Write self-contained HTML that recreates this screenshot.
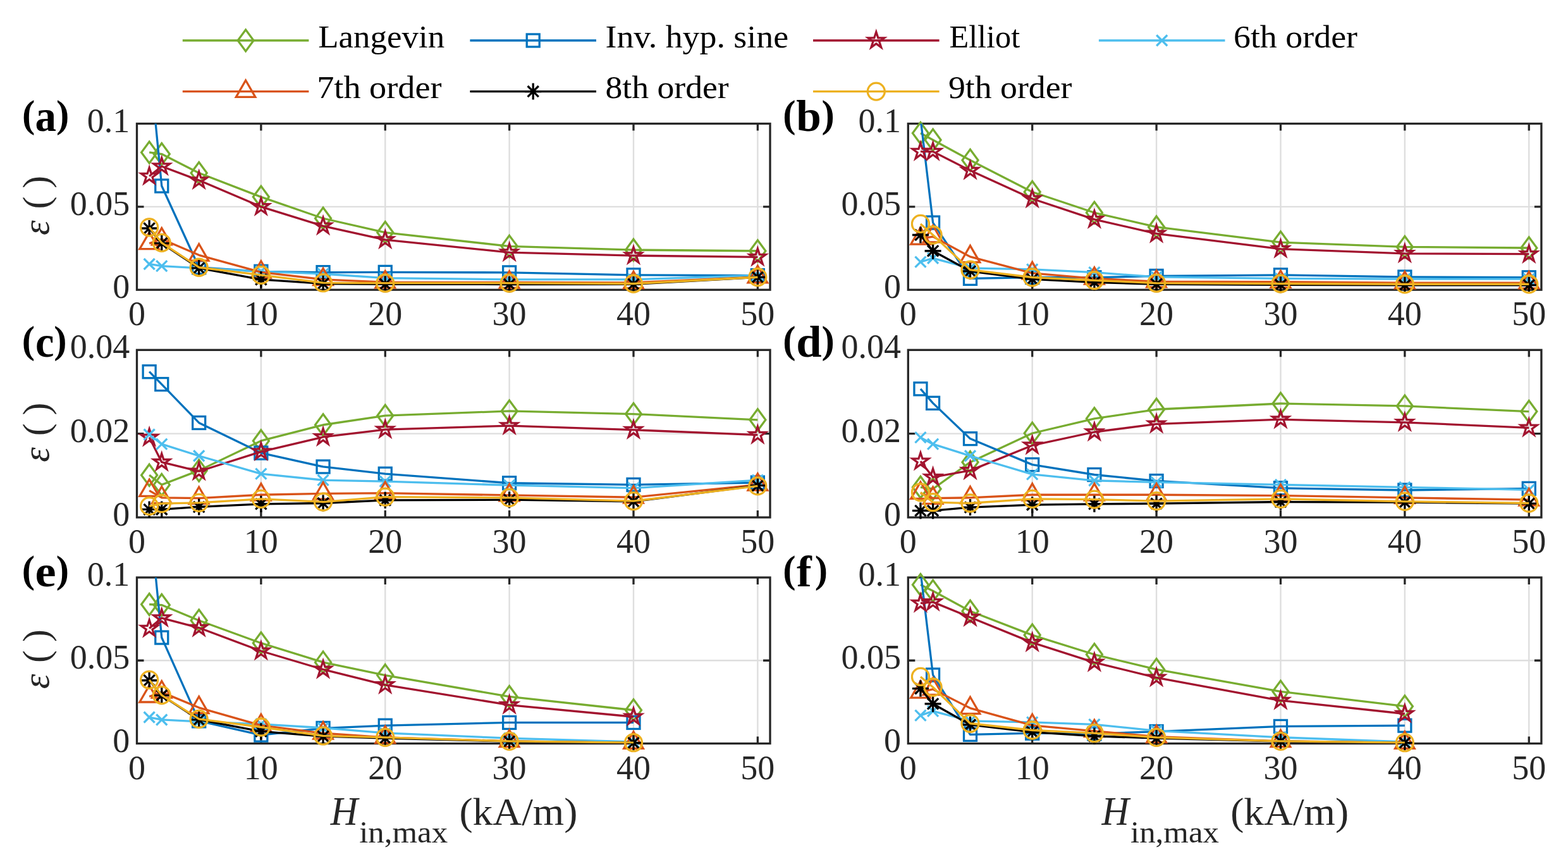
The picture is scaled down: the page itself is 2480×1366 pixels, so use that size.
<!DOCTYPE html><html><head><meta charset="utf-8"><title>Figure</title><style>html,body{margin:0;padding:0;background:#fff;overflow:hidden;}svg{display:block;}</style></head><body>
<svg width="2480" height="1366" viewBox="0 0 2480 1366">
<rect width="2480" height="1366" fill="#fff"/>
<defs><clipPath id="cpa"><rect x="216.5" y="195.5" width="1001.5" height="262.7"/></clipPath><clipPath id="cpb"><rect x="1436.3" y="195.5" width="1001.6" height="262.7"/></clipPath><clipPath id="cpc"><rect x="216.5" y="553.3" width="1001.5" height="264.7"/></clipPath><clipPath id="cpd"><rect x="1436.3" y="553.3" width="1001.6" height="264.7"/></clipPath><clipPath id="cpe"><rect x="216.5" y="913" width="1001.5" height="262.5"/></clipPath><clipPath id="cpf"><rect x="1436.3" y="913" width="1001.6" height="262.5"/></clipPath></defs>
<g stroke="#dedede" stroke-width="2.4" fill="none"><line x1="412.87" y1="195.5" x2="412.87" y2="458.2"/><line x1="609.25" y1="195.5" x2="609.25" y2="458.2"/><line x1="805.62" y1="195.5" x2="805.62" y2="458.2"/><line x1="1001.99" y1="195.5" x2="1001.99" y2="458.2"/><line x1="1198.36" y1="195.5" x2="1198.36" y2="458.2"/><line x1="216.5" y1="326.85" x2="1218" y2="326.85"/></g>
<g stroke="#262626" stroke-width="3.3" fill="none" stroke-linecap="square"><rect x="216.5" y="195.5" width="1001.5" height="262.7" stroke-linejoin="miter"/><path stroke-linecap="butt" d="M412.87 458.2V447.2M412.87 195.5V206.5M609.25 458.2V447.2M609.25 195.5V206.5M805.62 458.2V447.2M805.62 195.5V206.5M1001.99 458.2V447.2M1001.99 195.5V206.5M1198.36 458.2V447.2M1198.36 195.5V206.5M216.5 326.85H227.5M1218 326.85H1207"/></g>
<g><polyline clip-path="url(#cpa)" fill="none" stroke-width="3.3" stroke-linejoin="round" stroke="#77AC30" points="236.14,240.95 255.77,243.57 314.69,273.52 412.87,311.35 511.06,345.24 609.25,367.57 805.62,389.37 1001.99,395.15 1198.36,396.73"/><g fill="none" stroke="#77AC30" stroke-width="3.3" stroke-linejoin="miter" stroke-miterlimit="10"><path d="M236.14 223.95L248.64 240.95L236.14 257.95L223.64 240.95Z"/><path d="M255.77 226.57L268.27 243.57L255.77 260.57L243.27 243.57Z"/><path d="M314.69 256.52L327.19 273.52L314.69 290.52L302.19 273.52Z"/><path d="M412.87 294.35L425.37 311.35L412.87 328.35L400.37 311.35Z"/><path d="M511.06 328.24L523.56 345.24L511.06 362.24L498.56 345.24Z"/><path d="M609.25 350.57L621.75 367.57L609.25 384.57L596.75 367.57Z"/><path d="M805.62 372.37L818.12 389.37L805.62 406.37L793.12 389.37Z"/><path d="M1001.99 378.15L1014.49 395.15L1001.99 412.15L989.49 395.15Z"/><path d="M1198.36 379.73L1210.86 396.73L1198.36 413.73L1185.86 396.73Z"/></g><polyline clip-path="url(#cpa)" fill="none" stroke-width="3.3" stroke-linejoin="round" stroke="#0072BD" points="236.14,93.05 255.77,294.01 314.69,422.74 412.87,429.3 511.06,430.62 609.25,430.35 805.62,430.88 1001.99,434.82 1198.36,435.61"/><g fill="none" stroke="#0072BD" stroke-width="3.3" stroke-linejoin="miter" stroke-miterlimit="10"><rect x="245.77" y="284.01" width="20" height="20"/><rect x="304.69" y="412.74" width="20" height="20"/><rect x="402.87" y="419.3" width="20" height="20"/><rect x="501.06" y="420.62" width="20" height="20"/><rect x="599.25" y="420.35" width="20" height="20"/><rect x="795.62" y="420.88" width="20" height="20"/><rect x="991.99" y="424.82" width="20" height="20"/><rect x="1188.36" y="425.61" width="20" height="20"/></g><polyline clip-path="url(#cpa)" fill="none" stroke-width="3.3" stroke-linejoin="round" stroke="#A2142F" points="236.14,278.51 255.77,263.01 314.69,285.08 412.87,326.85 511.06,357.32 609.25,379.13 805.62,399.09 1001.99,404.08 1198.36,406.45"/><g fill="none" stroke="#A2142F" stroke-width="3.3" stroke-linejoin="miter" stroke-miterlimit="10"><path d="M236.14 265.01L239.17 274.34L248.98 274.34L241.04 280.11L244.07 289.43L236.14 283.67L228.2 289.43L231.23 280.11L223.3 274.34L233.11 274.34Z"/><path d="M255.77 249.51L258.81 258.84L268.61 258.84L260.68 264.61L263.71 273.94L255.77 268.17L247.84 273.94L250.87 264.61L242.94 258.84L252.74 258.84Z"/><path d="M314.69 271.58L317.72 280.91L327.53 280.91L319.59 286.67L322.62 296L314.69 290.24L306.75 296L309.78 286.67L301.85 280.91L311.66 280.91Z"/><path d="M412.87 313.35L415.9 322.68L425.71 322.68L417.78 328.44L420.81 337.77L412.87 332.01L404.94 337.77L407.97 328.44L400.03 322.68L409.84 322.68Z"/><path d="M511.06 343.82L514.09 353.15L523.9 353.15L515.96 358.92L518.99 368.24L511.06 362.48L503.12 368.24L506.15 358.92L498.22 353.15L508.03 353.15Z"/><path d="M609.25 365.63L612.28 374.96L622.08 374.96L614.15 380.72L617.18 390.05L609.25 384.28L601.31 390.05L604.34 380.72L596.41 374.96L606.21 374.96Z"/><path d="M805.62 385.59L808.65 394.92L818.46 394.92L810.52 400.69L813.55 410.01L805.62 404.25L797.68 410.01L800.71 400.69L792.78 394.92L802.59 394.92Z"/><path d="M1001.99 390.58L1005.02 399.91L1014.83 399.91L1006.89 405.68L1009.93 415.01L1001.99 409.24L994.06 415.01L997.09 405.68L989.15 399.91L998.96 399.91Z"/><path d="M1198.36 392.95L1201.39 402.28L1211.2 402.28L1203.27 408.04L1206.3 417.37L1198.36 411.61L1190.43 417.37L1193.46 408.04L1185.52 402.28L1195.33 402.28Z"/></g><polyline clip-path="url(#cpa)" fill="none" stroke-width="3.3" stroke-linejoin="round" stroke="#4DBEEE" points="236.14,417.48 255.77,420.63 314.69,423.79 412.87,429.04 511.06,432.98 609.25,439.55 805.62,441.91 1001.99,441.91 1198.36,435.35"/><g fill="none" stroke="#4DBEEE" stroke-width="3.3" stroke-linecap="butt"><path d="M227.64 408.98L244.64 425.98M227.64 425.98L244.64 408.98"/><path d="M247.27 412.13L264.27 429.13M247.27 429.13L264.27 412.13"/><path d="M306.19 415.29L323.19 432.29M306.19 432.29L323.19 415.29"/><path d="M404.37 420.54L421.37 437.54M404.37 437.54L421.37 420.54"/><path d="M502.56 424.48L519.56 441.48M502.56 441.48L519.56 424.48"/><path d="M600.75 431.05L617.75 448.05M600.75 448.05L617.75 431.05"/><path d="M797.12 433.41L814.12 450.41M797.12 450.41L814.12 433.41"/><path d="M993.49 433.41L1010.49 450.41M993.49 450.41L1010.49 433.41"/><path d="M1189.86 426.85L1206.86 443.85M1189.86 443.85L1206.86 426.85"/></g><polyline clip-path="url(#cpa)" fill="none" stroke-width="3.3" stroke-linejoin="round" stroke="#D95319" points="236.14,384.91 255.77,378.08 314.69,403.3 412.87,430.35 511.06,441.91 609.25,446.12 805.62,446.38 1001.99,446.9 1198.36,437.97"/><g fill="none" stroke="#D95319" stroke-width="3.3" stroke-linejoin="miter" stroke-miterlimit="10"><path d="M236.14 367.31L251.38 393.71L220.9 393.71Z"/><path d="M255.77 360.48L271.02 386.88L240.53 386.88Z"/><path d="M314.69 385.7L329.93 412.1L299.44 412.1Z"/><path d="M412.87 412.75L428.11 439.15L397.63 439.15Z"/><path d="M511.06 424.31L526.3 450.71L495.82 450.71Z"/><path d="M609.25 428.52L624.49 454.92L594 454.92Z"/><path d="M805.62 428.78L820.86 455.18L790.38 455.18Z"/><path d="M1001.99 429.3L1017.23 455.7L986.75 455.7Z"/><path d="M1198.36 420.37L1213.6 446.77L1183.12 446.77Z"/></g><polyline clip-path="url(#cpa)" fill="none" stroke-width="3.3" stroke-linejoin="round" stroke="#000000" points="236.14,361 255.77,384.64 314.69,423.79 412.87,441.91 511.06,448.48 609.25,449.27 805.62,449.53 1001.99,449.27 1198.36,438.23"/><g fill="none" stroke="#000000" stroke-width="3.3" stroke-linecap="butt"><path d="M223.14 361L249.14 361M236.14 348L236.14 374M227.54 352.4L244.74 369.6M227.54 369.6L244.74 352.4"/><path d="M242.77 384.64L268.77 384.64M255.77 371.64L255.77 397.64M247.17 376.04L264.37 393.24M247.17 393.24L264.37 376.04"/><path d="M301.69 423.79L327.69 423.79M314.69 410.79L314.69 436.79M306.09 415.19L323.29 432.39M306.09 432.39L323.29 415.19"/><path d="M399.87 441.91L425.87 441.91M412.87 428.91L412.87 454.91M404.27 433.31L421.47 450.51M404.27 450.51L421.47 433.31"/><path d="M498.06 448.48L524.06 448.48M511.06 435.48L511.06 461.48M502.46 439.88L519.66 457.08M502.46 457.08L519.66 439.88"/><path d="M596.25 449.27L622.25 449.27M609.25 436.27L609.25 462.27M600.65 440.67L617.85 457.87M600.65 457.87L617.85 440.67"/><path d="M792.62 449.53L818.62 449.53M805.62 436.53L805.62 462.53M797.02 440.93L814.22 458.13M797.02 458.13L814.22 440.93"/><path d="M988.99 449.27L1014.99 449.27M1001.99 436.27L1001.99 462.27M993.39 440.67L1010.59 457.87M993.39 457.87L1010.59 440.67"/><path d="M1185.36 438.23L1211.36 438.23M1198.36 425.23L1198.36 451.23M1189.76 429.63L1206.96 446.83M1189.76 446.83L1206.96 429.63"/></g><polyline clip-path="url(#cpa)" fill="none" stroke-width="3.3" stroke-linejoin="round" stroke="#EDB120" points="236.14,359.42 255.77,383.86 314.69,422.74 412.87,434.82 511.06,447.17 609.25,447.69 805.62,447.69 1001.99,448.48 1198.36,438.23"/><g fill="none" stroke="#EDB120" stroke-width="3.3" stroke-linejoin="miter" stroke-miterlimit="10"><circle cx="236.14" cy="359.42" r="13.5"/><circle cx="255.77" cy="383.86" r="13.5"/><circle cx="314.69" cy="422.74" r="13.5"/><circle cx="412.87" cy="434.82" r="13.5"/><circle cx="511.06" cy="447.17" r="13.5"/><circle cx="609.25" cy="447.69" r="13.5"/><circle cx="805.62" cy="447.69" r="13.5"/><circle cx="1001.99" cy="448.48" r="13.5"/><circle cx="1198.36" cy="438.23" r="13.5"/></g></g>
<g font-family="'Liberation Serif', serif" font-size="54" fill="#262626"><text x="216.5" y="514.2" text-anchor="middle">0</text><text x="412.87" y="514.2" text-anchor="middle">10</text><text x="609.25" y="514.2" text-anchor="middle">20</text><text x="805.62" y="514.2" text-anchor="middle">30</text><text x="1001.99" y="514.2" text-anchor="middle">40</text><text x="1198.36" y="514.2" text-anchor="middle">50</text><text x="205.2" y="471.2" text-anchor="end">0</text><text x="205.2" y="339.85" text-anchor="end">0.05</text><text x="205.2" y="208.5" text-anchor="end">0.1</text></g>
<g stroke="#dedede" stroke-width="2.4" fill="none"><line x1="1632.69" y1="195.5" x2="1632.69" y2="458.2"/><line x1="1829.08" y1="195.5" x2="1829.08" y2="458.2"/><line x1="2025.48" y1="195.5" x2="2025.48" y2="458.2"/><line x1="2221.87" y1="195.5" x2="2221.87" y2="458.2"/><line x1="2418.26" y1="195.5" x2="2418.26" y2="458.2"/><line x1="1436.3" y1="326.85" x2="2437.9" y2="326.85"/></g>
<g stroke="#262626" stroke-width="3.3" fill="none" stroke-linecap="square"><rect x="1436.3" y="195.5" width="1001.6" height="262.7" stroke-linejoin="miter"/><path stroke-linecap="butt" d="M1632.69 458.2V447.2M1632.69 195.5V206.5M1829.08 458.2V447.2M1829.08 195.5V206.5M2025.48 458.2V447.2M2025.48 195.5V206.5M2221.87 458.2V447.2M2221.87 195.5V206.5M2418.26 458.2V447.2M2418.26 195.5V206.5M1436.3 326.85H1447.3M2437.9 326.85H2426.9"/></g>
<g><polyline clip-path="url(#cpb)" fill="none" stroke-width="3.3" stroke-linejoin="round" stroke="#77AC30" points="1455.94,210.47 1475.58,221.24 1534.5,253.29 1632.69,303.47 1730.89,336.31 1829.08,358.9 2025.48,383.07 2221.87,390.42 2418.26,392"/><g fill="none" stroke="#77AC30" stroke-width="3.3" stroke-linejoin="miter" stroke-miterlimit="10"><path d="M1455.94 193.47L1468.44 210.47L1455.94 227.47L1443.44 210.47Z"/><path d="M1475.58 204.24L1488.08 221.24L1475.58 238.24L1463.08 221.24Z"/><path d="M1534.5 236.29L1547 253.29L1534.5 270.29L1522 253.29Z"/><path d="M1632.69 286.47L1645.19 303.47L1632.69 320.47L1620.19 303.47Z"/><path d="M1730.89 319.31L1743.39 336.31L1730.89 353.31L1718.39 336.31Z"/><path d="M1829.08 341.9L1841.58 358.9L1829.08 375.9L1816.58 358.9Z"/><path d="M2025.48 366.07L2037.98 383.07L2025.48 400.07L2012.98 383.07Z"/><path d="M2221.87 373.42L2234.37 390.42L2221.87 407.42L2209.37 390.42Z"/><path d="M2418.26 375L2430.76 392L2418.26 409L2405.76 392Z"/></g><polyline clip-path="url(#cpb)" fill="none" stroke-width="3.3" stroke-linejoin="round" stroke="#0072BD" points="1455.94,187.36 1475.58,352.07 1534.5,440.34 1632.69,438.5 1730.89,438.76 1829.08,436.4 2025.48,434.82 2221.87,437.97 2418.26,438.76"/><g fill="none" stroke="#0072BD" stroke-width="3.3" stroke-linejoin="miter" stroke-miterlimit="10"><rect x="1465.58" y="342.07" width="20" height="20"/><rect x="1524.5" y="430.34" width="20" height="20"/><rect x="1622.69" y="428.5" width="20" height="20"/><rect x="1720.89" y="428.76" width="20" height="20"/><rect x="1819.08" y="426.4" width="20" height="20"/><rect x="2015.48" y="424.82" width="20" height="20"/><rect x="2211.87" y="427.97" width="20" height="20"/><rect x="2408.26" y="428.76" width="20" height="20"/></g><polyline clip-path="url(#cpb)" fill="none" stroke-width="3.3" stroke-linejoin="round" stroke="#A2142F" points="1455.94,239.63 1475.58,239.63 1534.5,269.58 1632.69,314.24 1730.89,346.82 1829.08,369.41 2025.48,393.58 2221.87,400.93 2418.26,401.72"/><g fill="none" stroke="#A2142F" stroke-width="3.3" stroke-linejoin="miter" stroke-miterlimit="10"><path d="M1455.94 226.13L1458.97 235.46L1468.78 235.46L1460.84 241.23L1463.87 250.56L1455.94 244.79L1448 250.56L1451.03 241.23L1443.1 235.46L1452.91 235.46Z"/><path d="M1475.58 226.13L1478.61 235.46L1488.42 235.46L1480.48 241.23L1483.51 250.56L1475.58 244.79L1467.64 250.56L1470.67 241.23L1462.74 235.46L1472.55 235.46Z"/><path d="M1534.5 256.08L1537.53 265.41L1547.34 265.41L1539.4 271.18L1542.43 280.5L1534.5 274.74L1526.56 280.5L1529.59 271.18L1521.66 265.41L1531.46 265.41Z"/><path d="M1632.69 300.74L1635.72 310.07L1645.53 310.07L1637.6 315.83L1640.63 325.16L1632.69 319.4L1624.76 325.16L1627.79 315.83L1619.85 310.07L1629.66 310.07Z"/><path d="M1730.89 333.32L1733.92 342.64L1743.73 342.64L1735.79 348.41L1738.82 357.74L1730.89 351.97L1722.95 357.74L1725.98 348.41L1718.05 342.64L1727.86 342.64Z"/><path d="M1829.08 355.91L1832.12 365.24L1841.92 365.24L1833.99 371L1837.02 380.33L1829.08 374.56L1821.15 380.33L1824.18 371L1816.25 365.24L1826.05 365.24Z"/><path d="M2025.48 380.08L2028.51 389.4L2038.32 389.4L2030.38 395.17L2033.41 404.5L2025.48 398.73L2017.54 404.5L2020.57 395.17L2012.64 389.4L2022.45 389.4Z"/><path d="M2221.87 387.43L2224.9 396.76L2234.71 396.76L2226.77 402.53L2229.8 411.85L2221.87 406.09L2213.93 411.85L2216.96 402.53L2209.03 396.76L2218.84 396.76Z"/><path d="M2418.26 388.22L2421.29 397.55L2431.1 397.55L2423.17 403.31L2426.2 412.64L2418.26 406.88L2410.33 412.64L2413.36 403.31L2405.42 397.55L2415.23 397.55Z"/></g><polyline clip-path="url(#cpb)" fill="none" stroke-width="3.3" stroke-linejoin="round" stroke="#4DBEEE" points="1455.94,414.07 1475.58,408.29 1534.5,423.79 1632.69,425.89 1730.89,430.62 1829.08,437.97 2025.48,440.34 2221.87,441.12 2418.26,441.12"/><g fill="none" stroke="#4DBEEE" stroke-width="3.3" stroke-linecap="butt"><path d="M1447.44 405.57L1464.44 422.57M1447.44 422.57L1464.44 405.57"/><path d="M1467.08 399.79L1484.08 416.79M1467.08 416.79L1484.08 399.79"/><path d="M1526 415.29L1543 432.29M1526 432.29L1543 415.29"/><path d="M1624.19 417.39L1641.19 434.39M1624.19 434.39L1641.19 417.39"/><path d="M1722.39 422.12L1739.39 439.12M1722.39 439.12L1739.39 422.12"/><path d="M1820.58 429.47L1837.58 446.47M1820.58 446.47L1837.58 429.47"/><path d="M2016.98 431.84L2033.98 448.84M2016.98 448.84L2033.98 431.84"/><path d="M2213.37 432.62L2230.37 449.62M2213.37 449.62L2230.37 432.62"/><path d="M2409.76 432.62L2426.76 449.62M2409.76 449.62L2426.76 432.62"/></g><polyline clip-path="url(#cpb)" fill="none" stroke-width="3.3" stroke-linejoin="round" stroke="#D95319" points="1455.94,377.29 1475.58,374.14 1534.5,405.92 1632.69,431.93 1730.89,440.34 1829.08,445.06 2025.48,445.59 2221.87,447.17 2418.26,447.17"/><g fill="none" stroke="#D95319" stroke-width="3.3" stroke-linejoin="miter" stroke-miterlimit="10"><path d="M1455.94 359.69L1471.18 386.09L1440.7 386.09Z"/><path d="M1475.58 356.54L1490.82 382.94L1460.34 382.94Z"/><path d="M1534.5 388.32L1549.74 414.72L1519.25 414.72Z"/><path d="M1632.69 414.33L1647.93 440.73L1617.45 440.73Z"/><path d="M1730.89 422.74L1746.13 449.14L1715.65 449.14Z"/><path d="M1829.08 427.46L1844.33 453.87L1813.84 453.87Z"/><path d="M2025.48 427.99L2040.72 454.39L2010.23 454.39Z"/><path d="M2221.87 429.57L2237.11 455.97L2206.63 455.97Z"/><path d="M2418.26 429.57L2433.5 455.97L2403.02 455.97Z"/></g><polyline clip-path="url(#cpb)" fill="none" stroke-width="3.3" stroke-linejoin="round" stroke="#000000" points="1455.94,371.51 1475.58,396.73 1534.5,428.78 1632.69,441.39 1730.89,446.38 1829.08,449.27 2025.48,450.32 2221.87,450.84 2418.26,450.84"/><g fill="none" stroke="#000000" stroke-width="3.3" stroke-linecap="butt"><path d="M1442.94 371.51L1468.94 371.51M1455.94 358.51L1455.94 384.51M1447.34 362.91L1464.54 380.11M1447.34 380.11L1464.54 362.91"/><path d="M1462.58 396.73L1488.58 396.73M1475.58 383.73L1475.58 409.73M1466.98 388.13L1484.18 405.33M1466.98 405.33L1484.18 388.13"/><path d="M1521.5 428.78L1547.5 428.78M1534.5 415.78L1534.5 441.78M1525.9 420.18L1543.1 437.38M1525.9 437.38L1543.1 420.18"/><path d="M1619.69 441.39L1645.69 441.39M1632.69 428.39L1632.69 454.39M1624.09 432.79L1641.29 449.99M1624.09 449.99L1641.29 432.79"/><path d="M1717.89 446.38L1743.89 446.38M1730.89 433.38L1730.89 459.38M1722.29 437.78L1739.49 454.98M1722.29 454.98L1739.49 437.78"/><path d="M1816.08 449.27L1842.08 449.27M1829.08 436.27L1829.08 462.27M1820.48 440.67L1837.68 457.87M1820.48 457.87L1837.68 440.67"/><path d="M2012.48 450.32L2038.48 450.32M2025.48 437.32L2025.48 463.32M2016.88 441.72L2034.08 458.92M2016.88 458.92L2034.08 441.72"/><path d="M2208.87 450.84L2234.87 450.84M2221.87 437.84L2221.87 463.84M2213.27 442.24L2230.47 459.44M2213.27 459.44L2230.47 442.24"/><path d="M2405.26 450.84L2431.26 450.84M2418.26 437.84L2418.26 463.84M2409.66 442.24L2426.86 459.44M2409.66 459.44L2426.86 442.24"/></g><polyline clip-path="url(#cpb)" fill="none" stroke-width="3.3" stroke-linejoin="round" stroke="#EDB120" points="1455.94,353.91 1475.58,371.51 1534.5,426.68 1632.69,438.5 1730.89,443.23 1829.08,447.69 2025.48,448.48 2221.87,449.27 2418.26,449.27"/><g fill="none" stroke="#EDB120" stroke-width="3.3" stroke-linejoin="miter" stroke-miterlimit="10"><circle cx="1455.94" cy="353.91" r="13.5"/><circle cx="1475.58" cy="371.51" r="13.5"/><circle cx="1534.5" cy="426.68" r="13.5"/><circle cx="1632.69" cy="438.5" r="13.5"/><circle cx="1730.89" cy="443.23" r="13.5"/><circle cx="1829.08" cy="447.69" r="13.5"/><circle cx="2025.48" cy="448.48" r="13.5"/><circle cx="2221.87" cy="449.27" r="13.5"/><circle cx="2418.26" cy="449.27" r="13.5"/></g></g>
<g font-family="'Liberation Serif', serif" font-size="54" fill="#262626"><text x="1436.3" y="514.2" text-anchor="middle">0</text><text x="1632.69" y="514.2" text-anchor="middle">10</text><text x="1829.08" y="514.2" text-anchor="middle">20</text><text x="2025.48" y="514.2" text-anchor="middle">30</text><text x="2221.87" y="514.2" text-anchor="middle">40</text><text x="2418.26" y="514.2" text-anchor="middle">50</text><text x="1425" y="471.2" text-anchor="end">0</text><text x="1425" y="339.85" text-anchor="end">0.05</text><text x="1425" y="208.5" text-anchor="end">0.1</text></g>
<g stroke="#dedede" stroke-width="2.4" fill="none"><line x1="412.87" y1="553.3" x2="412.87" y2="818"/><line x1="609.25" y1="553.3" x2="609.25" y2="818"/><line x1="805.62" y1="553.3" x2="805.62" y2="818"/><line x1="1001.99" y1="553.3" x2="1001.99" y2="818"/><line x1="1198.36" y1="553.3" x2="1198.36" y2="818"/><line x1="216.5" y1="685.65" x2="1218" y2="685.65"/></g>
<g stroke="#262626" stroke-width="3.3" fill="none" stroke-linecap="square"><rect x="216.5" y="553.3" width="1001.5" height="264.7" stroke-linejoin="miter"/><path stroke-linecap="butt" d="M412.87 818V807M412.87 553.3V564.3M609.25 818V807M609.25 553.3V564.3M805.62 818V807M805.62 553.3V564.3M1001.99 818V807M1001.99 553.3V564.3M1198.36 818V807M1198.36 553.3V564.3M216.5 685.65H227.5M1218 685.65H1207"/></g>
<g><polyline clip-path="url(#cpc)" fill="none" stroke-width="3.3" stroke-linejoin="round" stroke="#77AC30" points="236.14,751.16 255.77,766.38 314.69,743.88 412.87,696.9 511.06,671.75 609.25,657.19 805.62,649.92 1001.99,654.55 1198.36,663.81"/><g fill="none" stroke="#77AC30" stroke-width="3.3" stroke-linejoin="miter" stroke-miterlimit="10"><path d="M236.14 734.16L248.64 751.16L236.14 768.16L223.64 751.16Z"/><path d="M255.77 749.38L268.27 766.38L255.77 783.38L243.27 766.38Z"/><path d="M314.69 726.88L327.19 743.88L314.69 760.88L302.19 743.88Z"/><path d="M412.87 679.9L425.37 696.9L412.87 713.9L400.37 696.9Z"/><path d="M511.06 654.75L523.56 671.75L511.06 688.75L498.56 671.75Z"/><path d="M609.25 640.19L621.75 657.19L609.25 674.19L596.75 657.19Z"/><path d="M805.62 632.92L818.12 649.92L805.62 666.92L793.12 649.92Z"/><path d="M1001.99 637.55L1014.49 654.55L1001.99 671.55L989.49 654.55Z"/><path d="M1198.36 646.81L1210.86 663.81L1198.36 680.81L1185.86 663.81Z"/></g><polyline clip-path="url(#cpc)" fill="none" stroke-width="3.3" stroke-linejoin="round" stroke="#0072BD" points="236.14,587.71 255.77,607.56 314.69,668.44 412.87,716.09 511.06,737.93 609.25,749.18 805.62,763.74 1001.99,766.38 1198.36,763.07"/><g fill="none" stroke="#0072BD" stroke-width="3.3" stroke-linejoin="miter" stroke-miterlimit="10"><rect x="226.14" y="577.71" width="20" height="20"/><rect x="245.77" y="597.56" width="20" height="20"/><rect x="304.69" y="658.44" width="20" height="20"/><rect x="402.87" y="706.09" width="20" height="20"/><rect x="501.06" y="727.93" width="20" height="20"/><rect x="599.25" y="739.18" width="20" height="20"/><rect x="795.62" y="753.74" width="20" height="20"/><rect x="991.99" y="756.38" width="20" height="20"/><rect x="1188.36" y="753.07" width="20" height="20"/></g><polyline clip-path="url(#cpc)" fill="none" stroke-width="3.3" stroke-linejoin="round" stroke="#A2142F" points="236.14,691.61 255.77,730.65 314.69,745.21 412.87,714.11 511.06,690.94 609.25,679.03 805.62,673.08 1001.99,679.69 1198.36,687.64"/><g fill="none" stroke="#A2142F" stroke-width="3.3" stroke-linejoin="miter" stroke-miterlimit="10"><path d="M236.14 678.11L239.17 687.43L248.98 687.43L241.04 693.2L244.07 702.53L236.14 696.76L228.2 702.53L231.23 693.2L223.3 687.43L233.11 687.43Z"/><path d="M255.77 717.15L258.81 726.48L268.61 726.48L260.68 732.24L263.71 741.57L255.77 735.81L247.84 741.57L250.87 732.24L242.94 726.48L252.74 726.48Z"/><path d="M314.69 731.71L317.72 741.04L327.53 741.04L319.59 746.8L322.62 756.13L314.69 750.36L306.75 756.13L309.78 746.8L301.85 741.04L311.66 741.04Z"/><path d="M412.87 700.61L415.9 709.93L425.71 709.93L417.78 715.7L420.81 725.03L412.87 719.26L404.94 725.03L407.97 715.7L400.03 709.93L409.84 709.93Z"/><path d="M511.06 677.44L514.09 686.77L523.9 686.77L515.96 692.54L518.99 701.87L511.06 696.1L503.12 701.87L506.15 692.54L498.22 686.77L508.03 686.77Z"/><path d="M609.25 665.53L612.28 674.86L622.08 674.86L614.15 680.63L617.18 689.95L609.25 684.19L601.31 689.95L604.34 680.63L596.41 674.86L606.21 674.86Z"/><path d="M805.62 659.58L808.65 668.9L818.46 668.91L810.52 674.67L813.55 684L805.62 678.23L797.68 684L800.71 674.67L792.78 668.91L802.59 668.9Z"/><path d="M1001.99 666.19L1005.02 675.52L1014.83 675.52L1006.89 681.29L1009.93 690.62L1001.99 684.85L994.06 690.62L997.09 681.29L989.15 675.52L998.96 675.52Z"/><path d="M1198.36 674.14L1201.39 683.46L1211.2 683.46L1203.27 689.23L1206.3 698.56L1198.36 692.79L1190.43 698.56L1193.46 689.23L1185.52 683.46L1195.33 683.46Z"/></g><polyline clip-path="url(#cpc)" fill="none" stroke-width="3.3" stroke-linejoin="round" stroke="#4DBEEE" points="236.14,686.97 255.77,702.19 314.69,720.72 412.87,749.18 511.06,759.1 609.25,761.09 805.62,767.05 1001.99,771.68 1198.36,759.1"/><g fill="none" stroke="#4DBEEE" stroke-width="3.3" stroke-linecap="butt"><path d="M227.64 678.47L244.64 695.47M227.64 695.47L244.64 678.47"/><path d="M247.27 693.69L264.27 710.69M247.27 710.69L264.27 693.69"/><path d="M306.19 712.22L323.19 729.22M306.19 729.22L323.19 712.22"/><path d="M404.37 740.68L421.37 757.68M404.37 757.68L421.37 740.68"/><path d="M502.56 750.6L519.56 767.6M502.56 767.6L519.56 750.6"/><path d="M600.75 752.59L617.75 769.59M600.75 769.59L617.75 752.59"/><path d="M797.12 758.55L814.12 775.55M797.12 775.55L814.12 758.55"/><path d="M993.49 763.18L1010.49 780.18M993.49 780.18L1010.49 763.18"/><path d="M1189.86 750.6L1206.86 767.6M1189.86 767.6L1206.86 750.6"/></g><polyline clip-path="url(#cpc)" fill="none" stroke-width="3.3" stroke-linejoin="round" stroke="#D95319" points="236.14,775.65 255.77,786.9 314.69,787.56 412.87,782.27 511.06,780.28 609.25,779.62 805.62,782.93 1001.99,786.24 1198.36,766.38"/><g fill="none" stroke="#D95319" stroke-width="3.3" stroke-linejoin="miter" stroke-miterlimit="10"><path d="M236.14 758.05L251.38 784.45L220.9 784.45Z"/><path d="M255.77 769.3L271.02 795.7L240.53 795.7Z"/><path d="M314.69 769.96L329.93 796.36L299.44 796.36Z"/><path d="M412.87 764.67L428.11 791.07L397.63 791.07Z"/><path d="M511.06 762.68L526.3 789.08L495.82 789.08Z"/><path d="M609.25 762.02L624.49 788.42L594 788.42Z"/><path d="M805.62 765.33L820.86 791.73L790.38 791.73Z"/><path d="M1001.99 768.64L1017.23 795.04L986.75 795.04Z"/><path d="M1198.36 748.78L1213.6 775.18L1183.12 775.18Z"/></g><polyline clip-path="url(#cpc)" fill="none" stroke-width="3.3" stroke-linejoin="round" stroke="#000000" points="236.14,805.43 255.77,805.43 314.69,801.46 412.87,796.82 511.06,795.5 609.25,790.87 805.62,790.21 1001.99,792.85 1198.36,767.71"/><g fill="none" stroke="#000000" stroke-width="3.3" stroke-linecap="butt"><path d="M223.14 805.43L249.14 805.43M236.14 792.43L236.14 818.43M227.54 796.83L244.74 814.03M227.54 814.03L244.74 796.83"/><path d="M242.77 805.43L268.77 805.43M255.77 792.43L255.77 818.43M247.17 796.83L264.37 814.03M247.17 814.03L264.37 796.83"/><path d="M301.69 801.46L327.69 801.46M314.69 788.46L314.69 814.46M306.09 792.86L323.29 810.06M306.09 810.06L323.29 792.86"/><path d="M399.87 796.82L425.87 796.82M412.87 783.82L412.87 809.82M404.27 788.22L421.47 805.42M404.27 805.42L421.47 788.22"/><path d="M498.06 795.5L524.06 795.5M511.06 782.5L511.06 808.5M502.46 786.9L519.66 804.1M502.46 804.1L519.66 786.9"/><path d="M596.25 790.87L622.25 790.87M609.25 777.87L609.25 803.87M600.65 782.27L617.85 799.47M600.65 799.47L617.85 782.27"/><path d="M792.62 790.21L818.62 790.21M805.62 777.21L805.62 803.21M797.02 781.61L814.22 798.81M797.02 798.81L814.22 781.61"/><path d="M988.99 792.85L1014.99 792.85M1001.99 779.85L1001.99 805.85M993.39 784.25L1010.59 801.45M993.39 801.45L1010.59 784.25"/><path d="M1185.36 767.71L1211.36 767.71M1198.36 754.71L1198.36 780.71M1189.76 759.11L1206.96 776.31M1189.76 776.31L1206.96 759.11"/></g><polyline clip-path="url(#cpc)" fill="none" stroke-width="3.3" stroke-linejoin="round" stroke="#EDB120" points="236.14,800.13 255.77,796.16 314.69,794.84 412.87,788.88 511.06,793.52 609.25,785.57 805.62,786.9 1001.99,792.19 1198.36,768.37"/><g fill="none" stroke="#EDB120" stroke-width="3.3" stroke-linejoin="miter" stroke-miterlimit="10"><circle cx="236.14" cy="800.13" r="13.5"/><circle cx="255.77" cy="796.16" r="13.5"/><circle cx="314.69" cy="794.84" r="13.5"/><circle cx="412.87" cy="788.88" r="13.5"/><circle cx="511.06" cy="793.52" r="13.5"/><circle cx="609.25" cy="785.57" r="13.5"/><circle cx="805.62" cy="786.9" r="13.5"/><circle cx="1001.99" cy="792.19" r="13.5"/><circle cx="1198.36" cy="768.37" r="13.5"/></g></g>
<g font-family="'Liberation Serif', serif" font-size="54" fill="#262626"><text x="216.5" y="874" text-anchor="middle">0</text><text x="412.87" y="874" text-anchor="middle">10</text><text x="609.25" y="874" text-anchor="middle">20</text><text x="805.62" y="874" text-anchor="middle">30</text><text x="1001.99" y="874" text-anchor="middle">40</text><text x="1198.36" y="874" text-anchor="middle">50</text><text x="205.2" y="831" text-anchor="end">0</text><text x="205.2" y="698.65" text-anchor="end">0.02</text><text x="205.2" y="566.3" text-anchor="end">0.04</text></g>
<g stroke="#dedede" stroke-width="2.4" fill="none"><line x1="1632.69" y1="553.3" x2="1632.69" y2="818"/><line x1="1829.08" y1="553.3" x2="1829.08" y2="818"/><line x1="2025.48" y1="553.3" x2="2025.48" y2="818"/><line x1="2221.87" y1="553.3" x2="2221.87" y2="818"/><line x1="2418.26" y1="553.3" x2="2418.26" y2="818"/><line x1="1436.3" y1="685.65" x2="2437.9" y2="685.65"/></g>
<g stroke="#262626" stroke-width="3.3" fill="none" stroke-linecap="square"><rect x="1436.3" y="553.3" width="1001.6" height="264.7" stroke-linejoin="miter"/><path stroke-linecap="butt" d="M1632.69 818V807M1632.69 553.3V564.3M1829.08 818V807M1829.08 553.3V564.3M2025.48 818V807M2025.48 553.3V564.3M2221.87 818V807M2221.87 553.3V564.3M2418.26 818V807M2418.26 553.3V564.3M1436.3 685.65H1447.3M2437.9 685.65H2426.9"/></g>
<g><polyline clip-path="url(#cpd)" fill="none" stroke-width="3.3" stroke-linejoin="round" stroke="#77AC30" points="1455.94,770.35 1475.58,773 1534.5,730.65 1632.69,684.99 1730.89,661.83 1829.08,647.27 2025.48,638 2221.87,641.97 2418.26,650.58"/><g fill="none" stroke="#77AC30" stroke-width="3.3" stroke-linejoin="miter" stroke-miterlimit="10"><path d="M1455.94 753.35L1468.44 770.35L1455.94 787.35L1443.44 770.35Z"/><path d="M1475.58 756L1488.08 773L1475.58 790L1463.08 773Z"/><path d="M1534.5 713.65L1547 730.65L1534.5 747.65L1522 730.65Z"/><path d="M1632.69 667.99L1645.19 684.99L1632.69 701.99L1620.19 684.99Z"/><path d="M1730.89 644.83L1743.39 661.83L1730.89 678.83L1718.39 661.83Z"/><path d="M1829.08 630.27L1841.58 647.27L1829.08 664.27L1816.58 647.27Z"/><path d="M2025.48 621L2037.98 638L2025.48 655L2012.98 638Z"/><path d="M2221.87 624.97L2234.37 641.97L2221.87 658.97L2209.37 641.97Z"/><path d="M2418.26 633.58L2430.76 650.58L2418.26 667.58L2405.76 650.58Z"/></g><polyline clip-path="url(#cpd)" fill="none" stroke-width="3.3" stroke-linejoin="round" stroke="#0072BD" points="1455.94,614.84 1475.58,637.34 1534.5,693.59 1632.69,734.62 1730.89,750.5 1829.08,760.43 2025.48,771.68 2221.87,774.99 2418.26,772.34"/><g fill="none" stroke="#0072BD" stroke-width="3.3" stroke-linejoin="miter" stroke-miterlimit="10"><rect x="1445.94" y="604.84" width="20" height="20"/><rect x="1465.58" y="627.34" width="20" height="20"/><rect x="1524.5" y="683.59" width="20" height="20"/><rect x="1622.69" y="724.62" width="20" height="20"/><rect x="1720.89" y="740.5" width="20" height="20"/><rect x="1819.08" y="750.43" width="20" height="20"/><rect x="2015.48" y="761.68" width="20" height="20"/><rect x="2211.87" y="764.99" width="20" height="20"/><rect x="2408.26" y="762.34" width="20" height="20"/></g><polyline clip-path="url(#cpd)" fill="none" stroke-width="3.3" stroke-linejoin="round" stroke="#A2142F" points="1455.94,729.33 1475.58,754.47 1534.5,743.88 1632.69,704.18 1730.89,683 1829.08,670.43 2025.48,663.15 2221.87,667.78 2418.26,676.39"/><g fill="none" stroke="#A2142F" stroke-width="3.3" stroke-linejoin="miter" stroke-miterlimit="10"><path d="M1455.94 715.83L1458.97 725.15L1468.78 725.15L1460.84 730.92L1463.87 740.25L1455.94 734.48L1448 740.25L1451.03 730.92L1443.1 725.15L1452.91 725.15Z"/><path d="M1475.58 740.97L1478.61 750.3L1488.42 750.3L1480.48 756.07L1483.51 765.39L1475.58 759.63L1467.64 765.39L1470.67 756.07L1462.74 750.3L1472.55 750.3Z"/><path d="M1534.5 730.38L1537.53 739.71L1547.34 739.71L1539.4 745.48L1542.43 754.81L1534.5 749.04L1526.56 754.81L1529.59 745.48L1521.66 739.71L1531.46 739.71Z"/><path d="M1632.69 690.68L1635.72 700.01L1645.53 700.01L1637.6 705.77L1640.63 715.1L1632.69 709.34L1624.76 715.1L1627.79 705.77L1619.85 700.01L1629.66 700.01Z"/><path d="M1730.89 669.5L1733.92 678.83L1743.73 678.83L1735.79 684.6L1738.82 693.92L1730.89 688.16L1722.95 693.92L1725.98 684.6L1718.05 678.83L1727.86 678.83Z"/><path d="M1829.08 656.93L1832.12 666.26L1841.92 666.26L1833.99 672.02L1837.02 681.35L1829.08 675.59L1821.15 681.35L1824.18 672.02L1816.25 666.26L1826.05 666.26Z"/><path d="M2025.48 649.65L2028.51 658.98L2038.32 658.98L2030.38 664.74L2033.41 674.07L2025.48 668.31L2017.54 674.07L2020.57 664.74L2012.64 658.98L2022.45 658.98Z"/><path d="M2221.87 654.28L2224.9 663.61L2234.71 663.61L2226.77 669.38L2229.8 678.7L2221.87 672.94L2213.93 678.7L2216.96 669.38L2209.03 663.61L2218.84 663.61Z"/><path d="M2418.26 662.89L2421.29 672.21L2431.1 672.21L2423.17 677.98L2426.2 687.31L2418.26 681.54L2410.33 687.31L2413.36 677.98L2405.42 672.21L2415.23 672.21Z"/></g><polyline clip-path="url(#cpd)" fill="none" stroke-width="3.3" stroke-linejoin="round" stroke="#4DBEEE" points="1455.94,691.61 1475.58,702.19 1534.5,720.72 1632.69,749.84 1730.89,759.77 1829.08,762.41 2025.48,766.38 2221.87,770.35 2418.26,774.32"/><g fill="none" stroke="#4DBEEE" stroke-width="3.3" stroke-linecap="butt"><path d="M1447.44 683.11L1464.44 700.11M1447.44 700.11L1464.44 683.11"/><path d="M1467.08 693.69L1484.08 710.69M1467.08 710.69L1484.08 693.69"/><path d="M1526 712.22L1543 729.22M1526 729.22L1543 712.22"/><path d="M1624.19 741.34L1641.19 758.34M1624.19 758.34L1641.19 741.34"/><path d="M1722.39 751.27L1739.39 768.27M1722.39 768.27L1739.39 751.27"/><path d="M1820.58 753.91L1837.58 770.91M1820.58 770.91L1837.58 753.91"/><path d="M2016.98 757.88L2033.98 774.88M2016.98 774.88L2033.98 757.88"/><path d="M2213.37 761.85L2230.37 778.85M2213.37 778.85L2230.37 761.85"/><path d="M2409.76 765.82L2426.76 782.82M2409.76 782.82L2426.76 765.82"/></g><polyline clip-path="url(#cpd)" fill="none" stroke-width="3.3" stroke-linejoin="round" stroke="#D95319" points="1455.94,779.62 1475.58,787.56 1534.5,786.9 1632.69,782.27 1730.89,782.27 1829.08,782.27 2025.48,783.59 2221.87,786.9 2418.26,790.21"/><g fill="none" stroke="#D95319" stroke-width="3.3" stroke-linejoin="miter" stroke-miterlimit="10"><path d="M1455.94 762.02L1471.18 788.42L1440.7 788.42Z"/><path d="M1475.58 769.96L1490.82 796.36L1460.34 796.36Z"/><path d="M1534.5 769.3L1549.74 795.7L1519.25 795.7Z"/><path d="M1632.69 764.67L1647.93 791.07L1617.45 791.07Z"/><path d="M1730.89 764.67L1746.13 791.07L1715.65 791.07Z"/><path d="M1829.08 764.67L1844.33 791.07L1813.84 791.07Z"/><path d="M2025.48 765.99L2040.72 792.39L2010.23 792.39Z"/><path d="M2221.87 769.3L2237.11 795.7L2206.63 795.7Z"/><path d="M2418.26 772.61L2433.5 799.01L2403.02 799.01Z"/></g><polyline clip-path="url(#cpd)" fill="none" stroke-width="3.3" stroke-linejoin="round" stroke="#000000" points="1455.94,807.41 1475.58,807.41 1534.5,802.12 1632.69,798.15 1730.89,796.82 1829.08,796.16 2025.48,793.52 2221.87,794.18 2418.26,796.16"/><g fill="none" stroke="#000000" stroke-width="3.3" stroke-linecap="butt"><path d="M1442.94 807.41L1468.94 807.41M1455.94 794.41L1455.94 820.41M1447.34 798.81L1464.54 816.01M1447.34 816.01L1464.54 798.81"/><path d="M1462.58 807.41L1488.58 807.41M1475.58 794.41L1475.58 820.41M1466.98 798.81L1484.18 816.01M1466.98 816.01L1484.18 798.81"/><path d="M1521.5 802.12L1547.5 802.12M1534.5 789.12L1534.5 815.12M1525.9 793.52L1543.1 810.72M1525.9 810.72L1543.1 793.52"/><path d="M1619.69 798.15L1645.69 798.15M1632.69 785.15L1632.69 811.15M1624.09 789.55L1641.29 806.75M1624.09 806.75L1641.29 789.55"/><path d="M1717.89 796.82L1743.89 796.82M1730.89 783.82L1730.89 809.82M1722.29 788.22L1739.49 805.42M1722.29 805.42L1739.49 788.22"/><path d="M1816.08 796.16L1842.08 796.16M1829.08 783.16L1829.08 809.16M1820.48 787.56L1837.68 804.76M1820.48 804.76L1837.68 787.56"/><path d="M2012.48 793.52L2038.48 793.52M2025.48 780.52L2025.48 806.52M2016.88 784.92L2034.08 802.12M2016.88 802.12L2034.08 784.92"/><path d="M2208.87 794.18L2234.87 794.18M2221.87 781.18L2221.87 807.18M2213.27 785.58L2230.47 802.78M2213.27 802.78L2230.47 785.58"/><path d="M2405.26 796.16L2431.26 796.16M2418.26 783.16L2418.26 809.16M2409.66 787.56L2426.86 804.76M2409.66 804.76L2426.86 787.56"/></g><polyline clip-path="url(#cpd)" fill="none" stroke-width="3.3" stroke-linejoin="round" stroke="#EDB120" points="1455.94,778.29 1475.58,794.18 1534.5,795.5 1632.69,788.88 1730.89,789.54 1829.08,792.19 2025.48,788.88 2221.87,792.85 2418.26,795.5"/><g fill="none" stroke="#EDB120" stroke-width="3.3" stroke-linejoin="miter" stroke-miterlimit="10"><circle cx="1455.94" cy="778.29" r="13.5"/><circle cx="1475.58" cy="794.18" r="13.5"/><circle cx="1534.5" cy="795.5" r="13.5"/><circle cx="1632.69" cy="788.88" r="13.5"/><circle cx="1730.89" cy="789.54" r="13.5"/><circle cx="1829.08" cy="792.19" r="13.5"/><circle cx="2025.48" cy="788.88" r="13.5"/><circle cx="2221.87" cy="792.85" r="13.5"/><circle cx="2418.26" cy="795.5" r="13.5"/></g></g>
<g font-family="'Liberation Serif', serif" font-size="54" fill="#262626"><text x="1436.3" y="874" text-anchor="middle">0</text><text x="1632.69" y="874" text-anchor="middle">10</text><text x="1829.08" y="874" text-anchor="middle">20</text><text x="2025.48" y="874" text-anchor="middle">30</text><text x="2221.87" y="874" text-anchor="middle">40</text><text x="2418.26" y="874" text-anchor="middle">50</text><text x="1425" y="831" text-anchor="end">0</text><text x="1425" y="698.65" text-anchor="end">0.02</text><text x="1425" y="566.3" text-anchor="end">0.04</text></g>
<g stroke="#dedede" stroke-width="2.4" fill="none"><line x1="412.87" y1="913" x2="412.87" y2="1175.5"/><line x1="609.25" y1="913" x2="609.25" y2="1175.5"/><line x1="805.62" y1="913" x2="805.62" y2="1175.5"/><line x1="1001.99" y1="913" x2="1001.99" y2="1175.5"/><line x1="1198.36" y1="913" x2="1198.36" y2="1175.5"/><line x1="216.5" y1="1044.25" x2="1218" y2="1044.25"/></g>
<g stroke="#262626" stroke-width="3.3" fill="none" stroke-linecap="square"><rect x="216.5" y="913" width="1001.5" height="262.5" stroke-linejoin="miter"/><path stroke-linecap="butt" d="M412.87 1175.5V1164.5M412.87 913V924M609.25 1175.5V1164.5M609.25 913V924M805.62 1175.5V1164.5M805.62 913V924M1001.99 1175.5V1164.5M1001.99 913V924M1198.36 1175.5V1164.5M1198.36 913V924M216.5 1044.25H227.5M1218 1044.25H1207"/></g>
<g><polyline clip-path="url(#cpe)" fill="none" stroke-width="3.3" stroke-linejoin="round" stroke="#77AC30" points="236.14,955.52 255.77,956.58 314.69,980.99 412.87,1016.69 511.06,1047.14 609.25,1067.61 805.62,1101.47 1001.99,1122.74"/><g fill="none" stroke="#77AC30" stroke-width="3.3" stroke-linejoin="miter" stroke-miterlimit="10"><path d="M236.14 938.52L248.64 955.52L236.14 972.52L223.64 955.52Z"/><path d="M255.77 939.58L268.27 956.58L255.77 973.58L243.27 956.58Z"/><path d="M314.69 963.99L327.19 980.99L314.69 997.99L302.19 980.99Z"/><path d="M412.87 999.69L425.37 1016.69L412.87 1033.69L400.37 1016.69Z"/><path d="M511.06 1030.14L523.56 1047.14L511.06 1064.14L498.56 1047.14Z"/><path d="M609.25 1050.61L621.75 1067.61L609.25 1084.61L596.75 1067.61Z"/><path d="M805.62 1084.47L818.12 1101.47L805.62 1118.47L793.12 1101.47Z"/><path d="M1001.99 1105.74L1014.49 1122.74L1001.99 1139.74L989.49 1122.74Z"/></g><polyline clip-path="url(#cpe)" fill="none" stroke-width="3.3" stroke-linejoin="round" stroke="#0072BD" points="236.14,808 255.77,1008.02 314.69,1139.8 412.87,1162.11 511.06,1151.35 609.25,1147.15 805.62,1142.42 1001.99,1142.42"/><g fill="none" stroke="#0072BD" stroke-width="3.3" stroke-linejoin="miter" stroke-miterlimit="10"><rect x="245.77" y="998.02" width="20" height="20"/><rect x="304.69" y="1129.8" width="20" height="20"/><rect x="402.87" y="1152.11" width="20" height="20"/><rect x="501.06" y="1141.35" width="20" height="20"/><rect x="599.25" y="1137.15" width="20" height="20"/><rect x="795.62" y="1132.42" width="20" height="20"/><rect x="991.99" y="1132.42" width="20" height="20"/></g><polyline clip-path="url(#cpe)" fill="none" stroke-width="3.3" stroke-linejoin="round" stroke="#A2142F" points="236.14,993.59 255.77,977.05 314.69,992.54 412.87,1029.29 511.06,1058.42 609.25,1082.84 805.62,1114.6 1001.99,1133.24"/><g fill="none" stroke="#A2142F" stroke-width="3.3" stroke-linejoin="miter" stroke-miterlimit="10"><path d="M236.14 980.09L239.17 989.42L248.98 989.42L241.04 995.18L244.07 1004.51L236.14 998.74L228.2 1004.51L231.23 995.18L223.3 989.42L233.11 989.42Z"/><path d="M255.77 963.55L258.81 972.88L268.61 972.88L260.68 978.64L263.71 987.97L255.77 982.21L247.84 987.97L250.87 978.64L242.94 972.88L252.74 972.88Z"/><path d="M314.69 979.04L317.72 988.37L327.53 988.37L319.59 994.13L322.62 1003.46L314.69 997.69L306.75 1003.46L309.78 994.13L301.85 988.37L311.66 988.37Z"/><path d="M412.87 1015.79L415.9 1025.12L425.71 1025.12L417.78 1030.88L420.81 1040.21L412.87 1034.44L404.94 1040.21L407.97 1030.88L400.03 1025.12L409.84 1025.12Z"/><path d="M511.06 1044.92L514.09 1054.25L523.9 1054.25L515.96 1060.02L518.99 1069.35L511.06 1063.58L503.12 1069.35L506.15 1060.02L498.22 1054.25L508.03 1054.25Z"/><path d="M609.25 1069.34L612.28 1078.67L622.08 1078.67L614.15 1084.43L617.18 1093.76L609.25 1087.99L601.31 1093.76L604.34 1084.43L596.41 1078.67L606.21 1078.67Z"/><path d="M805.62 1101.1L808.65 1110.43L818.46 1110.43L810.52 1116.19L813.55 1125.52L805.62 1119.76L797.68 1125.52L800.71 1116.19L792.78 1110.43L802.59 1110.43Z"/><path d="M1001.99 1119.74L1005.02 1129.07L1014.83 1129.07L1006.89 1134.83L1009.93 1144.16L1001.99 1138.39L994.06 1144.16L997.09 1134.83L989.15 1129.07L998.96 1129.07Z"/></g><polyline clip-path="url(#cpe)" fill="none" stroke-width="3.3" stroke-linejoin="round" stroke="#4DBEEE" points="236.14,1134.03 255.77,1137.96 314.69,1140.85 412.87,1144.79 511.06,1150.83 609.25,1158.96 805.62,1167.1 1001.99,1172.88"/><g fill="none" stroke="#4DBEEE" stroke-width="3.3" stroke-linecap="butt"><path d="M227.64 1125.53L244.64 1142.53M227.64 1142.53L244.64 1125.53"/><path d="M247.27 1129.46L264.27 1146.46M247.27 1146.46L264.27 1129.46"/><path d="M306.19 1132.35L323.19 1149.35M306.19 1149.35L323.19 1132.35"/><path d="M404.37 1136.29L421.37 1153.29M404.37 1153.29L421.37 1136.29"/><path d="M502.56 1142.33L519.56 1159.33M502.56 1159.33L519.56 1142.33"/><path d="M600.75 1150.46L617.75 1167.46M600.75 1167.46L617.75 1150.46"/><path d="M797.12 1158.6L814.12 1175.6M797.12 1175.6L814.12 1158.6"/><path d="M993.49 1164.38L1010.49 1181.38M993.49 1181.38L1010.49 1164.38"/></g><polyline clip-path="url(#cpe)" fill="none" stroke-width="3.3" stroke-linejoin="round" stroke="#D95319" points="236.14,1101.21 255.77,1094.39 314.69,1118.8 412.87,1146.89 511.06,1159.22 609.25,1165.79 805.62,1171.83 1001.99,1174.45"/><g fill="none" stroke="#D95319" stroke-width="3.3" stroke-linejoin="miter" stroke-miterlimit="10"><path d="M236.14 1083.61L251.38 1110.01L220.9 1110.01Z"/><path d="M255.77 1076.79L271.02 1103.19L240.53 1103.19Z"/><path d="M314.69 1101.2L329.93 1127.6L299.44 1127.6Z"/><path d="M412.87 1129.29L428.11 1155.69L397.63 1155.69Z"/><path d="M511.06 1141.62L526.3 1168.02L495.82 1168.02Z"/><path d="M609.25 1148.19L624.49 1174.59L594 1174.59Z"/><path d="M805.62 1154.23L820.86 1180.62L790.38 1180.62Z"/><path d="M1001.99 1156.85L1017.23 1183.25L986.75 1183.25Z"/></g><polyline clip-path="url(#cpe)" fill="none" stroke-width="3.3" stroke-linejoin="round" stroke="#000000" points="236.14,1075.75 255.77,1099.38 314.69,1137.96 412.87,1156.34 511.06,1164.21 609.25,1167.1 805.62,1172.09 1001.99,1174.45"/><g fill="none" stroke="#000000" stroke-width="3.3" stroke-linecap="butt"><path d="M223.14 1075.75L249.14 1075.75M236.14 1062.75L236.14 1088.75M227.54 1067.15L244.74 1084.35M227.54 1084.35L244.74 1067.15"/><path d="M242.77 1099.38L268.77 1099.38M255.77 1086.38L255.77 1112.38M247.17 1090.78L264.37 1107.97M247.17 1107.97L264.37 1090.78"/><path d="M301.69 1137.96L327.69 1137.96M314.69 1124.96L314.69 1150.96M306.09 1129.36L323.29 1146.56M306.09 1146.56L323.29 1129.36"/><path d="M399.87 1156.34L425.87 1156.34M412.87 1143.34L412.87 1169.34M404.27 1147.74L421.47 1164.94M404.27 1164.94L421.47 1147.74"/><path d="M498.06 1164.21L524.06 1164.21M511.06 1151.21L511.06 1177.21M502.46 1155.61L519.66 1172.81M502.46 1172.81L519.66 1155.61"/><path d="M596.25 1167.1L622.25 1167.1M609.25 1154.1L609.25 1180.1M600.65 1158.5L617.85 1175.7M600.65 1175.7L617.85 1158.5"/><path d="M792.62 1172.09L818.62 1172.09M805.62 1159.09L805.62 1185.09M797.02 1163.49L814.22 1180.69M797.02 1180.69L814.22 1163.49"/><path d="M988.99 1174.45L1014.99 1174.45M1001.99 1161.45L1001.99 1187.45M993.39 1165.85L1010.59 1183.05M993.39 1183.05L1010.59 1165.85"/></g><polyline clip-path="url(#cpe)" fill="none" stroke-width="3.3" stroke-linejoin="round" stroke="#EDB120" points="236.14,1074.96 255.77,1099.11 314.69,1136.91 412.87,1149.51 511.06,1163.42 609.25,1165.79 805.62,1171.83 1001.99,1174.19"/><g fill="none" stroke="#EDB120" stroke-width="3.3" stroke-linejoin="miter" stroke-miterlimit="10"><circle cx="236.14" cy="1074.96" r="13.5"/><circle cx="255.77" cy="1099.11" r="13.5"/><circle cx="314.69" cy="1136.91" r="13.5"/><circle cx="412.87" cy="1149.51" r="13.5"/><circle cx="511.06" cy="1163.42" r="13.5"/><circle cx="609.25" cy="1165.79" r="13.5"/><circle cx="805.62" cy="1171.83" r="13.5"/><circle cx="1001.99" cy="1174.19" r="13.5"/></g></g>
<g font-family="'Liberation Serif', serif" font-size="54" fill="#262626"><text x="216.5" y="1231.5" text-anchor="middle">0</text><text x="412.87" y="1231.5" text-anchor="middle">10</text><text x="609.25" y="1231.5" text-anchor="middle">20</text><text x="805.62" y="1231.5" text-anchor="middle">30</text><text x="1001.99" y="1231.5" text-anchor="middle">40</text><text x="1198.36" y="1231.5" text-anchor="middle">50</text><text x="205.2" y="1188.5" text-anchor="end">0</text><text x="205.2" y="1057.25" text-anchor="end">0.05</text><text x="205.2" y="926" text-anchor="end">0.1</text></g>
<g stroke="#dedede" stroke-width="2.4" fill="none"><line x1="1632.69" y1="913" x2="1632.69" y2="1175.5"/><line x1="1829.08" y1="913" x2="1829.08" y2="1175.5"/><line x1="2025.48" y1="913" x2="2025.48" y2="1175.5"/><line x1="2221.87" y1="913" x2="2221.87" y2="1175.5"/><line x1="2418.26" y1="913" x2="2418.26" y2="1175.5"/><line x1="1436.3" y1="1044.25" x2="2437.9" y2="1044.25"/></g>
<g stroke="#262626" stroke-width="3.3" fill="none" stroke-linecap="square"><rect x="1436.3" y="913" width="1001.6" height="262.5" stroke-linejoin="miter"/><path stroke-linecap="butt" d="M1632.69 1175.5V1164.5M1632.69 913V924M1829.08 1175.5V1164.5M1829.08 913V924M2025.48 1175.5V1164.5M2025.48 913V924M2221.87 1175.5V1164.5M2221.87 913V924M2418.26 1175.5V1164.5M2418.26 913V924M1436.3 1044.25H1447.3M2437.9 1044.25H2426.9"/></g>
<g><polyline clip-path="url(#cpf)" fill="none" stroke-width="3.3" stroke-linejoin="round" stroke="#77AC30" points="1455.94,924.55 1475.58,934.26 1534.5,966.29 1632.69,1004.09 1730.89,1034.8 1829.08,1058.42 2025.48,1093.34 2221.87,1116.7"/><g fill="none" stroke="#77AC30" stroke-width="3.3" stroke-linejoin="miter" stroke-miterlimit="10"><path d="M1455.94 907.55L1468.44 924.55L1455.94 941.55L1443.44 924.55Z"/><path d="M1475.58 917.26L1488.08 934.26L1475.58 951.26L1463.08 934.26Z"/><path d="M1534.5 949.29L1547 966.29L1534.5 983.29L1522 966.29Z"/><path d="M1632.69 987.09L1645.19 1004.09L1632.69 1021.09L1620.19 1004.09Z"/><path d="M1730.89 1017.8L1743.39 1034.8L1730.89 1051.8L1718.39 1034.8Z"/><path d="M1829.08 1041.42L1841.58 1058.42L1829.08 1075.42L1816.58 1058.42Z"/><path d="M2025.48 1076.34L2037.98 1093.34L2025.48 1110.34L2012.98 1093.34Z"/><path d="M2221.87 1099.7L2234.37 1116.7L2221.87 1133.7L2209.37 1116.7Z"/></g><polyline clip-path="url(#cpf)" fill="none" stroke-width="3.3" stroke-linejoin="round" stroke="#0072BD" points="1455.94,903.81 1475.58,1067.09 1534.5,1161.33 1632.69,1159.22 1730.89,1160.01 1829.08,1156.6 2025.48,1148.46 2221.87,1147.15"/><g fill="none" stroke="#0072BD" stroke-width="3.3" stroke-linejoin="miter" stroke-miterlimit="10"><rect x="1465.58" y="1057.09" width="20" height="20"/><rect x="1524.5" y="1151.33" width="20" height="20"/><rect x="1622.69" y="1149.22" width="20" height="20"/><rect x="1720.89" y="1150.01" width="20" height="20"/><rect x="1819.08" y="1146.6" width="20" height="20"/><rect x="2015.48" y="1138.46" width="20" height="20"/><rect x="2211.87" y="1137.15" width="20" height="20"/></g><polyline clip-path="url(#cpf)" fill="none" stroke-width="3.3" stroke-linejoin="round" stroke="#A2142F" points="1455.94,953.69 1475.58,951.85 1534.5,976 1632.69,1015.9 1730.89,1047.4 1829.08,1071.29 2025.48,1107.51 2221.87,1128.51"/><g fill="none" stroke="#A2142F" stroke-width="3.3" stroke-linejoin="miter" stroke-miterlimit="10"><path d="M1455.94 940.19L1458.97 949.52L1468.78 949.52L1460.84 955.28L1463.87 964.61L1455.94 958.84L1448 964.61L1451.03 955.28L1443.1 949.52L1452.91 949.52Z"/><path d="M1475.58 938.35L1478.61 947.68L1488.42 947.68L1480.48 953.44L1483.51 962.77L1475.58 957.01L1467.64 962.77L1470.67 953.44L1462.74 947.68L1472.55 947.68Z"/><path d="M1534.5 962.5L1537.53 971.83L1547.34 971.83L1539.4 977.59L1542.43 986.92L1534.5 981.16L1526.56 986.92L1529.59 977.59L1521.66 971.83L1531.46 971.83Z"/><path d="M1632.69 1002.4L1635.72 1011.73L1645.53 1011.73L1637.6 1017.49L1640.63 1026.82L1632.69 1021.06L1624.76 1026.82L1627.79 1017.49L1619.85 1011.73L1629.66 1011.73Z"/><path d="M1730.89 1033.9L1733.92 1043.23L1743.73 1043.23L1735.79 1048.99L1738.82 1058.32L1730.89 1052.56L1722.95 1058.32L1725.98 1048.99L1718.05 1043.23L1727.86 1043.23Z"/><path d="M1829.08 1057.79L1832.12 1067.12L1841.92 1067.12L1833.99 1072.88L1837.02 1082.21L1829.08 1076.44L1821.15 1082.21L1824.18 1072.88L1816.25 1067.12L1826.05 1067.12Z"/><path d="M2025.48 1094.01L2028.51 1103.34L2038.32 1103.34L2030.38 1109.11L2033.41 1118.43L2025.48 1112.67L2017.54 1118.43L2020.57 1109.11L2012.64 1103.34L2022.45 1103.34Z"/><path d="M2221.87 1115.01L2224.9 1124.34L2234.71 1124.34L2226.77 1130.11L2229.8 1139.43L2221.87 1133.67L2213.93 1139.43L2216.96 1130.11L2209.03 1124.34L2218.84 1124.34Z"/></g><polyline clip-path="url(#cpf)" fill="none" stroke-width="3.3" stroke-linejoin="round" stroke="#4DBEEE" points="1455.94,1131.14 1475.58,1124.31 1534.5,1139.8 1632.69,1141.9 1730.89,1145.31 1829.08,1155.29 2025.48,1165.79 2221.87,1172.88"/><g fill="none" stroke="#4DBEEE" stroke-width="3.3" stroke-linecap="butt"><path d="M1447.44 1122.64L1464.44 1139.64M1447.44 1139.64L1464.44 1122.64"/><path d="M1467.08 1115.81L1484.08 1132.81M1467.08 1132.81L1484.08 1115.81"/><path d="M1526 1131.3L1543 1148.3M1526 1148.3L1543 1131.3"/><path d="M1624.19 1133.4L1641.19 1150.4M1624.19 1150.4L1641.19 1133.4"/><path d="M1722.39 1136.81L1739.39 1153.81M1722.39 1153.81L1739.39 1136.81"/><path d="M1820.58 1146.79L1837.58 1163.79M1820.58 1163.79L1837.58 1146.79"/><path d="M2016.98 1157.29L2033.98 1174.29M2016.98 1174.29L2033.98 1157.29"/><path d="M2213.37 1164.38L2230.37 1181.38M2213.37 1181.38L2230.37 1164.38"/></g><polyline clip-path="url(#cpf)" fill="none" stroke-width="3.3" stroke-linejoin="round" stroke="#D95319" points="1455.94,1094.39 1475.58,1089.66 1534.5,1119.59 1632.69,1146.89 1730.89,1155.81 1829.08,1164.74 2025.48,1171.83 2221.87,1174.45"/><g fill="none" stroke="#D95319" stroke-width="3.3" stroke-linejoin="miter" stroke-miterlimit="10"><path d="M1455.94 1076.79L1471.18 1103.19L1440.7 1103.19Z"/><path d="M1475.58 1072.06L1490.82 1098.46L1460.34 1098.46Z"/><path d="M1534.5 1101.99L1549.74 1128.39L1519.25 1128.39Z"/><path d="M1632.69 1129.29L1647.93 1155.69L1617.45 1155.69Z"/><path d="M1730.89 1138.21L1746.13 1164.61L1715.65 1164.61Z"/><path d="M1829.08 1147.14L1844.33 1173.54L1813.84 1173.54Z"/><path d="M2025.48 1154.23L2040.72 1180.62L2010.23 1180.62Z"/><path d="M2221.87 1156.85L2237.11 1183.25L2206.63 1183.25Z"/></g><polyline clip-path="url(#cpf)" fill="none" stroke-width="3.3" stroke-linejoin="round" stroke="#000000" points="1455.94,1088.61 1475.58,1112.76 1534.5,1145.84 1632.69,1157.39 1730.89,1163.95 1829.08,1167.1 2025.48,1172.09 2221.87,1174.45"/><g fill="none" stroke="#000000" stroke-width="3.3" stroke-linecap="butt"><path d="M1442.94 1088.61L1468.94 1088.61M1455.94 1075.61L1455.94 1101.61M1447.34 1080.01L1464.54 1097.21M1447.34 1097.21L1464.54 1080.01"/><path d="M1462.58 1112.76L1488.58 1112.76M1475.58 1099.76L1475.58 1125.76M1466.98 1104.16L1484.18 1121.36M1466.98 1121.36L1484.18 1104.16"/><path d="M1521.5 1145.84L1547.5 1145.84M1534.5 1132.84L1534.5 1158.84M1525.9 1137.24L1543.1 1154.44M1525.9 1154.44L1543.1 1137.24"/><path d="M1619.69 1157.39L1645.69 1157.39M1632.69 1144.39L1632.69 1170.39M1624.09 1148.79L1641.29 1165.99M1624.09 1165.99L1641.29 1148.79"/><path d="M1717.89 1163.95L1743.89 1163.95M1730.89 1150.95L1730.89 1176.95M1722.29 1155.35L1739.49 1172.55M1722.29 1172.55L1739.49 1155.35"/><path d="M1816.08 1167.1L1842.08 1167.1M1829.08 1154.1L1829.08 1180.1M1820.48 1158.5L1837.68 1175.7M1820.48 1175.7L1837.68 1158.5"/><path d="M2012.48 1172.09L2038.48 1172.09M2025.48 1159.09L2025.48 1185.09M2016.88 1163.49L2034.08 1180.69M2016.88 1180.69L2034.08 1163.49"/><path d="M2208.87 1174.45L2234.87 1174.45M2221.87 1161.45L2221.87 1187.45M2213.27 1165.85L2230.47 1183.05M2213.27 1183.05L2230.47 1165.85"/></g><polyline clip-path="url(#cpf)" fill="none" stroke-width="3.3" stroke-linejoin="round" stroke="#EDB120" points="1455.94,1069.97 1475.58,1086.51 1534.5,1143.74 1632.69,1154.5 1730.89,1159.22 1829.08,1165.79 2025.48,1171.83 2221.87,1174.19"/><g fill="none" stroke="#EDB120" stroke-width="3.3" stroke-linejoin="miter" stroke-miterlimit="10"><circle cx="1455.94" cy="1069.97" r="13.5"/><circle cx="1475.58" cy="1086.51" r="13.5"/><circle cx="1534.5" cy="1143.74" r="13.5"/><circle cx="1632.69" cy="1154.5" r="13.5"/><circle cx="1730.89" cy="1159.22" r="13.5"/><circle cx="1829.08" cy="1165.79" r="13.5"/><circle cx="2025.48" cy="1171.83" r="13.5"/><circle cx="2221.87" cy="1174.19" r="13.5"/></g></g>
<g font-family="'Liberation Serif', serif" font-size="54" fill="#262626"><text x="1436.3" y="1231.5" text-anchor="middle">0</text><text x="1632.69" y="1231.5" text-anchor="middle">10</text><text x="1829.08" y="1231.5" text-anchor="middle">20</text><text x="2025.48" y="1231.5" text-anchor="middle">30</text><text x="2221.87" y="1231.5" text-anchor="middle">40</text><text x="2418.26" y="1231.5" text-anchor="middle">50</text><text x="1425" y="1188.5" text-anchor="end">0</text><text x="1425" y="1057.25" text-anchor="end">0.05</text><text x="1425" y="926" text-anchor="end">0.1</text></g>
<g font-family="'Liberation Serif', serif" font-weight="bold" fill="#000"><text x="34.96" y="200.89" font-size="61">(</text><text x="89.11" y="200.89" font-size="61">)</text><text x="55.6" y="207" font-size="70" textLength="33.5" lengthAdjust="spacingAndGlyphs">a</text><text x="1238.16" y="200.89" font-size="61">(</text><text x="1299.51" y="200.89" font-size="61">)</text><text x="1259.2" y="207" font-size="70" textLength="39.64" lengthAdjust="spacingAndGlyphs">b</text><text x="34.86" y="557.79" font-size="61">(</text><text x="85.31" y="557.79" font-size="61">)</text><text x="56.1" y="563.9" font-size="70" textLength="29.47" lengthAdjust="spacingAndGlyphs">c</text><text x="1238.16" y="557.79" font-size="61">(</text><text x="1299.51" y="557.79" font-size="61">)</text><text x="1259.3" y="563.9" font-size="70" textLength="40.34" lengthAdjust="spacingAndGlyphs">d</text><text x="34.86" y="920.89" font-size="61">(</text><text x="88.81" y="920.89" font-size="61">)</text><text x="55.6" y="927" font-size="70" textLength="33.07" lengthAdjust="spacingAndGlyphs">e</text><text x="1238.16" y="921.29" font-size="61">(</text><text x="1288.81" y="921.29" font-size="61">)</text><text x="1260.1" y="927.4" font-size="70" textLength="23.72" lengthAdjust="spacingAndGlyphs">f</text></g>
<g font-family="'Liberation Serif', serif" font-size="60" fill="#262626"><text font-style="italic" transform="translate(76.5,371.9) rotate(-90)">ε</text><text transform="translate(76.5,330.5) rotate(-90)">(</text><text transform="translate(76.5,297.7) rotate(-90)">)</text><text font-style="italic" transform="translate(76.5,730.7) rotate(-90)">ε</text><text transform="translate(76.5,689.3) rotate(-90)">(</text><text transform="translate(76.5,656.5) rotate(-90)">)</text><text font-style="italic" transform="translate(76.5,1089.3) rotate(-90)">ε</text><text transform="translate(76.5,1047.9) rotate(-90)">(</text><text transform="translate(76.5,1015.1) rotate(-90)">)</text></g>
<g font-family="'Liberation Serif', serif" fill="#262626"><text x="522.8" y="1304.2" font-size="64" font-style="italic" textLength="43.3" lengthAdjust="spacingAndGlyphs">H</text><text x="568.2" y="1331.7" font-size="49" textLength="140" lengthAdjust="spacingAndGlyphs">in,max</text><text x="726.4" y="1304.2" font-size="62" textLength="187" lengthAdjust="spacingAndGlyphs">(kA/m)</text><text x="1742.6" y="1304.2" font-size="64" font-style="italic" textLength="43.3" lengthAdjust="spacingAndGlyphs">H</text><text x="1788" y="1331.7" font-size="49" textLength="140" lengthAdjust="spacingAndGlyphs">in,max</text><text x="1946.2" y="1304.2" font-size="62" textLength="187" lengthAdjust="spacingAndGlyphs">(kA/m)</text></g>
<line x1="288.8" y1="64" x2="488.4" y2="64" stroke="#77AC30" stroke-width="3.3"/><g fill="none" stroke="#77AC30" stroke-width="3.3" stroke-linejoin="miter" stroke-miterlimit="10"><path d="M388.6 47L401.1 64L388.6 81L376.1 64Z"/></g><text x="503.27" y="74.8" font-family="'Liberation Serif', serif" font-size="51" fill="#000" textLength="199.85" lengthAdjust="spacingAndGlyphs">Langevin</text><line x1="743.4" y1="64" x2="943" y2="64" stroke="#0072BD" stroke-width="3.3"/><g fill="none" stroke="#0072BD" stroke-width="3.3" stroke-linejoin="miter" stroke-miterlimit="10"><rect x="833.2" y="54" width="20" height="20"/></g><text x="957.46" y="74.8" font-family="'Liberation Serif', serif" font-size="51" fill="#000" textLength="289.63" lengthAdjust="spacingAndGlyphs">Inv. hyp. sine</text><line x1="1286" y1="64" x2="1485.6" y2="64" stroke="#A2142F" stroke-width="3.3"/><g fill="none" stroke="#A2142F" stroke-width="3.3" stroke-linejoin="miter" stroke-miterlimit="10"><path d="M1385.8 50.5L1388.83 59.83L1398.64 59.83L1390.7 65.59L1393.74 74.92L1385.8 69.16L1377.86 74.92L1380.9 65.59L1372.96 59.83L1382.77 59.83Z"/></g><text x="1501.47" y="74.8" font-family="'Liberation Serif', serif" font-size="51" fill="#000" textLength="111.63" lengthAdjust="spacingAndGlyphs">Elliot</text><line x1="1737.9" y1="64" x2="1937.5" y2="64" stroke="#4DBEEE" stroke-width="3.3"/><g fill="none" stroke="#4DBEEE" stroke-width="3.3" stroke-linecap="butt"><path d="M1829.2 55.5L1846.2 72.5M1829.2 72.5L1846.2 55.5"/></g><text x="1950.96" y="74.8" font-family="'Liberation Serif', serif" font-size="51" fill="#000" textLength="196.05" lengthAdjust="spacingAndGlyphs">6th order</text><line x1="288.8" y1="144.6" x2="488.4" y2="144.6" stroke="#D95319" stroke-width="3.3"/><g fill="none" stroke="#D95319" stroke-width="3.3" stroke-linejoin="miter" stroke-miterlimit="10"><path d="M388.6 127L403.84 153.4L373.36 153.4Z"/></g><text x="501.23" y="154.9" font-family="'Liberation Serif', serif" font-size="51" fill="#000" textLength="197.38" lengthAdjust="spacingAndGlyphs">7th order</text><line x1="743.4" y1="144.6" x2="943" y2="144.6" stroke="#000000" stroke-width="3.3"/><g fill="none" stroke="#000000" stroke-width="3.3" stroke-linecap="butt"><path d="M830.2 144.6L856.2 144.6M843.2 131.6L843.2 157.6M834.6 136L851.8 153.2M834.6 153.2L851.8 136"/></g><text x="957.46" y="154.9" font-family="'Liberation Serif', serif" font-size="51" fill="#000" textLength="195.25" lengthAdjust="spacingAndGlyphs">8th order</text><line x1="1286" y1="144.6" x2="1485.6" y2="144.6" stroke="#EDB120" stroke-width="3.3"/><g fill="none" stroke="#EDB120" stroke-width="3.3" stroke-linejoin="miter" stroke-miterlimit="10"><circle cx="1385.8" cy="144.6" r="13.5"/></g><text x="1499.97" y="154.9" font-family="'Liberation Serif', serif" font-size="51" fill="#000" textLength="195.44" lengthAdjust="spacingAndGlyphs">9th order</text>
</svg></body></html>
